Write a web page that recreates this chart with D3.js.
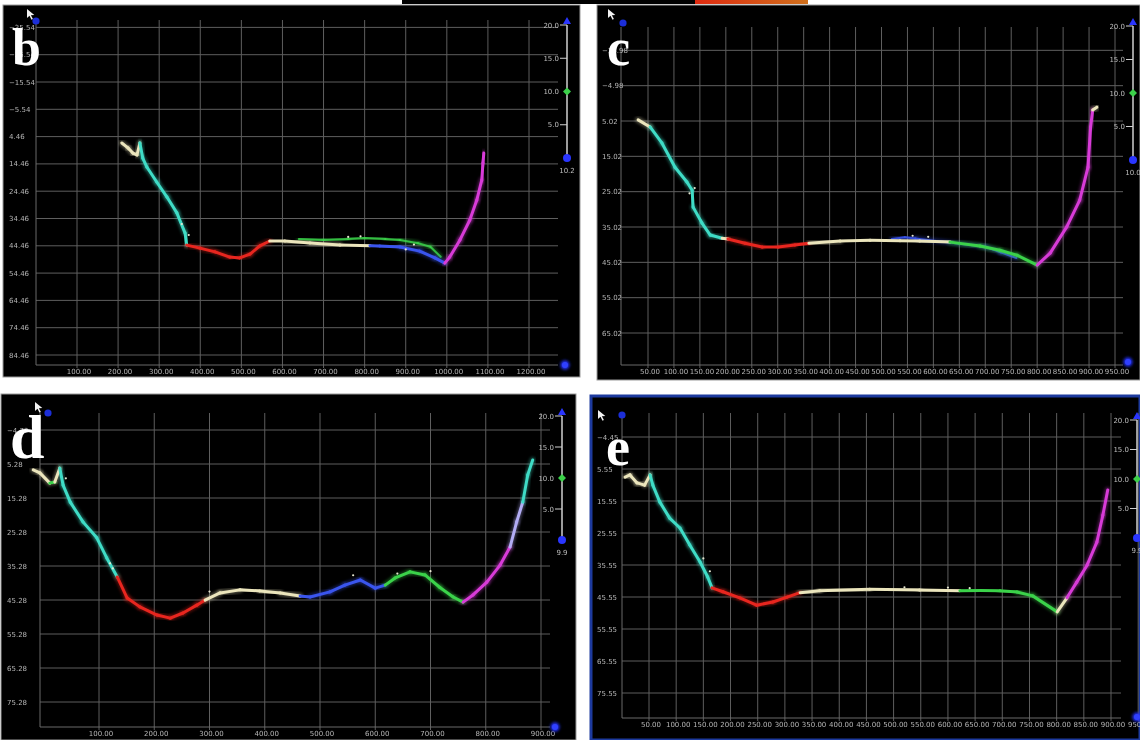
<!DOCTYPE html>
<html>
<head>
<meta charset="utf-8">
<script src="https://cdn.jsdelivr.net/npm/d3@7"></script>
<style>
  body { margin: 0; background: #fff; }
  svg { display: block; }
</style>
</head>
<body>
<svg id="fig" width="1140" height="740"></svg>
<script>
// ---- Axis ticks (distance along transect in m, depth in m) ----
const bXTicks = [100, 200, 300, 400, 500, 600, 700, 800, 900, 1000, 1100, 1200];
const bYTicks = [-35.54, -25.54, -15.54, -5.54, 4.46, 14.46, 24.46, 34.46, 44.46, 54.46, 64.46, 74.46, 84.46];
const cXTicks = [50, 100, 150, 200, 250, 300, 350, 400, 450, 500, 550, 600, 650, 700, 750, 800, 850, 900, 950];
const cYTicks = [-14.98, -4.98, 5.02, 15.02, 25.02, 35.02, 45.02, 55.02, 65.02];
const dXTicks = [100, 200, 300, 400, 500, 600, 700, 800, 900];
const dYTicks = [-4.72, 5.28, 15.28, 25.28, 35.28, 45.28, 55.28, 65.28, 75.28];
const eXTicks = [50, 100, 150, 200, 250, 300, 350, 400, 450, 500, 550, 600, 650, 700, 750, 800, 850, 900, 950];
const eYTicks = [-4.45, 5.55, 15.55, 25.55, 35.55, 45.55, 55.55, 65.55, 75.55];

// ---- Colour-scale slider ticks and current value per section ----
const sliderTicks = [20, 15, 10, 5];
const bSliderValue = "10.2";
const cSliderValue = "10.0";
const dSliderValue = "9.9";
const eSliderValue = "9.9";

// ---- Profiles: [distance, depth, slope class of the segment that starts here] ----
const bProfile = [
  [209, 6.8, "A"], [224, 8.6, "A"], [236, 10.5, "A"], [246, 11.2, "A"], [253, 6.8, "B"],
  [260, 12.3, "B"], [270, 15.6, "B"], [294, 21.1, "B"], [319, 26.6, "B"], [343, 32.4, "B"],
  [363, 39.8, "B"], [367, 44.2, "C"], [399, 45.3, "C"], [436, 46.7, "C"], [472, 48.6, "C"],
  [496, 48.9, "C"], [521, 47.5, "C"], [545, 44.5, "C"], [569, 42.7, "A"], [606, 42.7, "A"],
  [667, 43.4, "A"], [740, 44.2, "A"], [813, 44.4, "E"], [837, 44.5, "E"], [886, 44.9, "E"],
  [934, 46.4, "E"], [971, 48.9, "E"], [995, 50.8, "G"], [1007, 48.6, "G"], [1032, 42.3, "G"],
  [1056, 35.0, "G"], [1073, 27.7, "G"], [1085, 20.4, "G"], [1088, 14.1, "G"], [1090, 10.5, "G"]
];
const bSecondary = [
  [640, 42.0, "D"], [700, 42.3, "D"], [760, 42.0, "D"], [800, 41.6, "D"], [850, 42.0, "D"],
  [886, 42.3, "D"], [930, 43.5, "D"], [960, 44.8, "D"], [985, 48.5, "D"]
];
const cProfile = [
  [31, 4.7, "A"], [54, 6.7, "B"], [77, 11.3, "B"], [102, 18.1, "B"], [125, 22.3, "B"],
  [135, 24.6, "B"], [137, 29.4, "B"], [154, 33.9, "B"], [170, 37.3, "B"], [193, 38.2, "A"],
  [204, 38.4, "C"], [237, 39.6, "C"], [270, 40.7, "C"], [301, 40.7, "C"], [333, 40.1, "C"],
  [360, 39.6, "A"], [420, 39.0, "A"], [478, 38.8, "A"], [536, 38.9, "A"], [574, 39.0, "A"],
  [632, 39.3, "D"], [690, 40.4, "D"], [728, 41.6, "D"], [761, 43.0, "D"], [800, 45.8, "G"],
  [825, 42.4, "G"], [857, 35.0, "G"], [882, 27.4, "G"], [898, 18.1, "G"], [903, 6.7, "G"],
  [907, 1.9, "A"], [915, 1.1, "A"]
];
const cSecondary = [
  [520, 38.4, "E"], [545, 37.9, "E"], [565, 38.3, "E"], [700, 40.6, "E"], [730, 42.2, "E"],
  [760, 43.8, "E"]
];
const dProfile = [
  [-19, 7.0, "A"], [-7, 7.9, "A"], [11, 10.9, "D"], [20, 10.6, "A"], [29, 6.5, "B"],
  [35, 11.5, "B"], [48, 16.5, "B"], [71, 22.3, "B"], [96, 27.0, "B"], [114, 32.9, "B"],
  [133, 38.5, "C"], [151, 44.7, "C"], [174, 47.3, "C"], [205, 49.7, "C"], [229, 50.6, "C"],
  [252, 49.1, "C"], [277, 46.8, "C"], [292, 45.3, "A"], [319, 43.2, "A"], [355, 42.3, "A"],
  [391, 42.6, "A"], [428, 43.2, "A"], [464, 44.1, "E"], [482, 44.4, "E"], [518, 42.9, "E"],
  [545, 40.9, "E"], [573, 39.4, "E"], [600, 41.8, "E"], [618, 40.9, "D"], [636, 38.8, "D"],
  [663, 37.0, "D"], [690, 37.9, "D"], [717, 41.6, "D"], [741, 44.4, "D"], [759, 45.9, "G"],
  [777, 43.8, "G"], [802, 40.0, "G"], [826, 35.0, "G"], [844, 29.7, "H"], [856, 22.3, "H"],
  [867, 16.5, "B"], [876, 8.5, "B"], [885, 4.1, "B"]
];
const eProfile = [
  [6, 8.1, "A"], [15, 7.4, "A"], [28, 9.9, "A"], [42, 10.6, "A"], [52, 7.4, "B"],
  [57, 10.6, "B"], [70, 15.9, "B"], [88, 20.9, "B"], [107, 24.0, "B"], [125, 29.3, "B"],
  [144, 34.6, "B"], [158, 39.3, "B"], [166, 42.7, "C"], [186, 43.9, "C"], [217, 45.8, "C"],
  [248, 48.1, "C"], [278, 47.1, "C"], [304, 45.6, "C"], [328, 44.2, "A"], [364, 43.6, "A"],
  [456, 43.1, "A"], [548, 43.4, "A"], [622, 43.6, "D"], [660, 43.5, "D"], [696, 43.6, "D"],
  [727, 44.0, "D"], [756, 45.2, "D"], [801, 50.2, "A"], [819, 45.8, "G"], [837, 40.9, "G"],
  [856, 35.6, "G"], [874, 28.4, "G"], [885, 20.0, "G"], [894, 12.1, "G"]
];

// Stray soundings plotted as loose dots
const bSoundings = [[355, 36.5], [372, 40.5], [760, 41.2], [790, 41.0], [900, 45.8], [920, 44.0]];
const cSoundings = [[130, 25.5], [140, 24.0], [560, 37.5], [590, 37.8]];
const dSoundings = [[40, 9.5], [120, 34.5], [125, 36.0], [300, 42.8], [560, 38.0], [640, 37.5], [700, 36.8]];
const eSoundings = [[150, 33.5], [162, 37.5], [520, 42.5], [600, 42.6], [640, 42.8]];

// ---- Styling ----
const zoneColor = {
  A: "#ebe5bc", B: "#3fdcc6", C: "#e8261f", D: "#3bd24a",
  E: "#3a55ee", G: "#d83bd8", H: "#b2acf4"
};
const fmt = d3.format(".2f");
const svg = d3.select("#fig");

const defs = svg.append("defs");
const glow = defs.append("filter").attr("id", "glow").attr("x", "-50%").attr("y", "-50%").attr("width", "200%").attr("height", "200%");
glow.append("feGaussianBlur").attr("stdDeviation", 1.6);
const soft = defs.append("filter").attr("id", "soft");
soft.append("feGaussianBlur").attr("stdDeviation", 0.45);
const strip = defs.append("linearGradient").attr("id", "strip");
strip.append("stop").attr("offset", "0%").attr("stop-color", "#e02a10");
strip.append("stop").attr("offset", "100%").attr("stop-color", "#d0701c");

// Remnant of the figure above
svg.append("rect").attr("x", 402).attr("y", 0).attr("width", 406).attr("height", 4).attr("fill", "#000");
svg.append("rect").attr("x", 695).attr("y", 0).attr("width", 113).attr("height", 4).attr("fill", "url(#strip)");

const panels = [
  {
    letter: "b", frame: [3, 5, 577, 372], border: "#9a9a9a",
    xd: [100, 1200], xr: [77, 529], yd: [-15.54, 84.46], yr: [82, 355],
    plot: { l: 36, r: 558, t: 20, b: 365 }, labelX: 9,
    xTicks: bXTicks, yTicks: bYTicks, profile: bProfile, secondary: bSecondary, dots: bSoundings,
    slider: { x: 567, top: 25, bottom: 158, value: bSliderValue, end: [565, 365] },
    letterPos: [12, 65, 52], cursor: [27, 9], knob: [36, 21]
  },
  {
    letter: "c", frame: [597, 5, 543, 375], border: "#9a9a9a",
    xd: [50, 950], xr: [648, 1115], yd: [5.02, 65.02], yr: [121, 333],
    plot: { l: 621, r: 1123, t: 27, b: 365 }, labelX: 602,
    xTicks: cXTicks, yTicks: cYTicks, profile: cProfile, secondary: cSecondary, dots: cSoundings,
    slider: { x: 1133, top: 26, bottom: 160, value: cSliderValue, end: [1128, 362] },
    letterPos: [607, 65, 52], cursor: [608, 9], knob: [623, 23]
  },
  {
    letter: "d", frame: [1, 394, 575, 346], border: "#9a9a9a",
    xd: [100, 900], xr: [99, 541], yd: [5.28, 75.28], yr: [464, 702],
    plot: { l: 40, r: 550, t: 413, b: 727 }, labelX: 7,
    xTicks: dXTicks, yTicks: dYTicks, profile: dProfile, secondary: null, dots: dSoundings,
    slider: { x: 562, top: 416, bottom: 540, value: dSliderValue, end: [555, 727] },
    letterPos: [10, 458, 62], cursor: [35, 402], knob: [48, 413]
  },
  {
    letter: "e", frame: [591, 396, 549, 344], border: "#1d3a9e",
    xd: [50, 900], xr: [649, 1111], yd: [5.55, 75.55], yr: [469, 693],
    plot: { l: 622, r: 1121, t: 413, b: 718 }, labelX: 597,
    xTicks: eXTicks, yTicks: eYTicks, profile: eProfile, secondary: null, dots: eSoundings,
    slider: { x: 1137, top: 420, bottom: 538, value: eSliderValue, end: [1137, 717] },
    letterPos: [606, 465, 54], cursor: [598, 410], knob: [622, 415]
  }
];

panels.forEach(p => {
  const g = svg.append("g");
  const [fx, fy, fw, fh] = p.frame;
  g.append("rect").attr("x", fx).attr("y", fy).attr("width", fw).attr("height", fh)
    .attr("fill", "#000").attr("stroke", p.border).attr("stroke-width", p.letter === "e" ? 3 : 1);

  const x = d3.scaleLinear().domain(p.xd).range(p.xr);
  const y = d3.scaleLinear().domain(p.yd).range(p.yr);
  const P = p.plot;

  const grid = g.append("g").attr("filter", "url(#soft)");
  // vertical grid lines
  grid.selectAll(".vg").data(p.xTicks.filter(v => x(v) <= P.r + 20)).enter().append("line")
    .attr("x1", d => x(d)).attr("x2", d => x(d)).attr("y1", P.t).attr("y2", P.b + 3)
    .attr("stroke", "#5e5e5e").attr("stroke-width", 1);
  // horizontal grid lines
  grid.selectAll(".hg").data(p.yTicks).enter().append("line")
    .attr("x1", P.l).attr("x2", P.r).attr("y1", d => y(d)).attr("y2", d => y(d))
    .attr("stroke", "#5e5e5e").attr("stroke-width", 1);
  // axis frame lines
  grid.append("line").attr("x1", P.l).attr("x2", P.l).attr("y1", P.t).attr("y2", P.b)
    .attr("stroke", "#6a6a6a");
  grid.append("line").attr("x1", P.l).attr("x2", P.r).attr("y1", P.b).attr("y2", P.b)
    .attr("stroke", "#6a6a6a");

  // tick labels
  const lab = g.append("g").attr("font-family", "DejaVu Sans, sans-serif").attr("font-size", 7)
    .attr("fill", "#b5b5b5").attr("filter", "url(#soft)");
  lab.selectAll(".xl").data(p.xTicks).enter().append("text")
    .attr("x", d => x(d) + 2).attr("y", P.b + 9).attr("text-anchor", "middle")
    .text(d => fmt(d));
  lab.selectAll(".yl").data(p.yTicks).enter().append("text")
    .attr("x", p.labelX).attr("y", d => y(d) + 2.5).attr("text-anchor", "start")
    .text(d => fmt(d));

  // profile
  const line = d3.line().x(d => x(d[0])).y(d => y(d[1]));
  const drawTrace = (pts, width, op) => {
    const segs = d3.pairs(pts);
    const tg = g.append("g");
    tg.selectAll(".glow").data(segs).enter().append("path")
      .attr("d", s => line(s)).attr("fill", "none")
      .attr("stroke", s => zoneColor[s[0][2]]).attr("stroke-width", width + 3)
      .attr("stroke-linecap", "round").attr("opacity", 0.35).attr("filter", "url(#glow)");
    tg.selectAll(".seg").data(segs).enter().append("path")
      .attr("d", s => line(s)).attr("fill", "none")
      .attr("stroke", s => zoneColor[s[0][2]]).attr("stroke-width", width)
      .attr("stroke-linecap", "round").attr("stroke-linejoin", "round").attr("opacity", op);
  };
  if (p.secondary) drawTrace(p.secondary, 2, 0.85);
  drawTrace(p.profile, 3, 1);

  g.selectAll(".dot").data(p.dots).enter().append("circle")
    .attr("cx", d => x(d[0])).attr("cy", d => y(d[1])).attr("r", 1.1)
    .attr("fill", "#e6e6d0");

  // colour-scale slider
  const S = p.slider;
  const sy = d3.scaleLinear().domain([0, 20]).range([S.bottom, S.top]);
  const sl = g.append("g").attr("filter", "url(#soft)");
  sl.append("line").attr("x1", S.x).attr("x2", S.x).attr("y1", sy(20)).attr("y2", sy(0))
    .attr("stroke", "#d0d0d0").attr("stroke-width", 1.5);
  sl.selectAll(".st").data(sliderTicks.filter(v => v !== 10)).enter().append("line")
    .attr("x1", S.x - 7).attr("x2", S.x).attr("y1", d => sy(d)).attr("y2", d => sy(d))
    .attr("stroke", "#d0d0d0");
  sl.selectAll(".sl").data(sliderTicks).enter().append("text")
    .attr("x", S.x - 8).attr("y", d => sy(d) + 2.5).attr("text-anchor", "end")
    .attr("font-family", "DejaVu Sans, sans-serif").attr("font-size", 7).attr("fill", "#bdbdbd")
    .text(d => d3.format(".1f")(d));
  sl.append("path").attr("d", `M${S.x},${sy(20) - 8} l-4,7 h8 z`).attr("fill", "#2a36ff");
  sl.append("path").attr("d", `M${S.x},${sy(10) - 4} l4,4 l-4,4 l-4,-4 z`).attr("fill", "#3ad04a");
  sl.append("circle").attr("cx", S.x).attr("cy", sy(0)).attr("r", 4).attr("fill", "#2a36ff");
  sl.append("text").attr("x", S.x).attr("y", sy(0) + 15).attr("text-anchor", "middle")
    .attr("font-family", "DejaVu Sans, sans-serif").attr("font-size", 7).attr("fill", "#bdbdbd")
    .text(S.value);
  g.append("circle").attr("cx", S.end[0]).attr("cy", S.end[1]).attr("r", 4.5)
    .attr("fill", "#2030ff").attr("filter", "url(#glow)");
  g.append("circle").attr("cx", S.end[0]).attr("cy", S.end[1]).attr("r", 3)
    .attr("fill", "#3040ff");

  // pointer and handle in the corner
  const [cx0, cy0] = p.cursor;
  g.append("path").attr("d", `M${cx0},${cy0} l0,9 l2.5,-2.2 l2,4 l1.4,-0.7 l-2,-3.8 l3.4,-0.3 z`)
    .attr("fill", "#f2f2f2");
  g.append("circle").attr("cx", p.knob[0]).attr("cy", p.knob[1]).attr("r", 3.6)
    .attr("fill", "#1b2fd8").attr("filter", "url(#soft)");

  // section letter
  g.append("text").attr("x", p.letterPos[0]).attr("y", p.letterPos[1])
    .attr("font-family", "Liberation Serif, serif").attr("font-weight", "bold")
    .attr("font-size", p.letterPos[2]).attr("fill", "#fff").text(p.letter);
});
</script>
</body>
</html>
